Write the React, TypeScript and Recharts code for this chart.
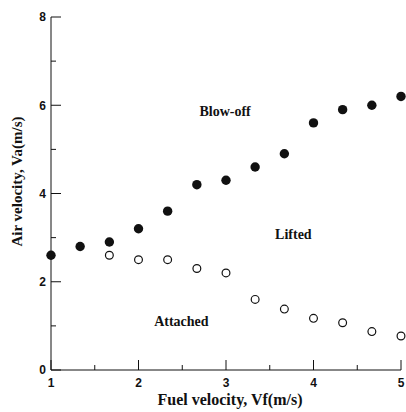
import React from 'react';
import { ScatterChart, Scatter, XAxis, YAxis, ReferenceDot, Label } from 'recharts';

const fuelX = [1, 1.333, 1.667, 2, 2.333, 2.667, 3, 3.333, 3.667, 4, 4.333, 4.667, 5];
const blowOffY = [2.6, 2.8, 2.9, 3.2, 3.6, 4.2, 4.3, 4.6, 4.9, 5.6, 5.9, 6.0, 6.2];
const attachedX = [1.667, 2, 2.333, 2.667, 3, 3.333, 3.667, 4, 4.333, 4.667, 5];
const attachedY = [2.6, 2.5, 2.5, 2.3, 2.2, 1.6, 1.38, 1.17, 1.07, 0.87, 0.77];
const xTicks = [1, 1.5, 2, 2.5, 3, 3.5, 4, 4.5, 5];
const yTicks = [0, 1, 2, 3, 4, 5, 6, 7, 8];
const xTickLabels = ['1', '', '2', '', '3', '', '4', '', '5'];
const yTickLabels = ['0', '', '2', '', '4', '', '6', '', '8'];
const regionLabels = [
  { text: 'Blow-off', x: 2.99, y: 5.87 },
  { text: 'Lifted', x: 3.77, y: 3.08 },
  { text: 'Attached', x: 2.49, y: 1.12 },
];

const blowOffData = fuelX.map((x, i) => ({ x, y: blowOffY[i] }));
const attachedData = attachedX.map((x, i) => ({ x, y: attachedY[i] }));

const SERIF = '"Liberation Serif", "Times New Roman", serif';
const SANS = '"Liberation Sans", Arial, sans-serif';
const INK = '#111';

const XTick = (props: any) => {
  const { x, y, payload } = props;
  const idx = xTicks.indexOf(payload.value);
  const lbl = xTickLabels[idx] || '';
  const len = lbl ? 10 : 5;
  return (
    <g>
      <line x1={x} y1={y} x2={x} y2={y - len} stroke={INK} strokeWidth={1} />
      {lbl && (
        <text x={x} y={y + 17} textAnchor="middle" fontFamily={SANS} fontWeight="bold" fontSize={12} fill={INK}>
          {lbl}
        </text>
      )}
    </g>
  );
};

const YTick = (props: any) => {
  const { x, y, payload } = props;
  const idx = yTicks.indexOf(payload.value);
  const lbl = yTickLabels[idx] || '';
  const len = lbl ? 10 : 5;
  return (
    <g>
      <line x1={x} y1={y} x2={x + len} y2={y} stroke={INK} strokeWidth={1} />
      {lbl && (
        <text x={x - 5} y={y + 4.3} textAnchor="end" fontFamily={SANS} fontWeight="bold" fontSize={12} fill={INK}>
          {lbl}
        </text>
      )}
    </g>
  );
};

const FilledDot = (props: any) => <circle cx={props.cx} cy={props.cy} r={4.7} fill={INK} />;
const OpenDot = (props: any) => (
  <circle cx={props.cx} cy={props.cy} r={3.9} fill="#fff" stroke={INK} strokeWidth={1.2} />
);

const XTitle = (props: any) => {
  const vb = props.viewBox;
  return (
    <text x={vb.x + vb.width / 2 + 4} y={vb.y + 35} textAnchor="middle" fontFamily={SERIF} fontWeight="bold" fontSize={16} fill={INK}>
      Fuel velocity, Vf(m/s)
    </text>
  );
};

const YTitle = (props: any) => {
  const vb = props.viewBox;
  const cx = 17;
  const cy = vb.y + vb.height / 2 - 12;
  return (
    <text x={cx} y={cy} transform={`rotate(-90, ${cx}, ${cy})`} textAnchor="middle" dominantBaseline="central" fontFamily={SERIF} fontWeight="bold" fontSize={15} fill={INK}>
      Air velocity, Va(m/s)
    </text>
  );
};

export default function App() {
  return (
    <div style={{ position: 'absolute', left: 0, top: 0, background: '#fff' }}>
      <ScatterChart width={406} height={412} margin={{ top: 17, right: 5, bottom: 0, left: 0 }}>
        <XAxis
          type="number"
          dataKey="x"
          domain={[1, 5]}
          ticks={xTicks}
          interval={0}
          height={42}
          tickSize={0}
          tickMargin={0}
          tickLine={false}
          tick={<XTick />}
          axisLine={{ stroke: INK, strokeWidth: 1 }}
        >
          <Label content={<XTitle />} />
        </XAxis>
        <YAxis
          type="number"
          dataKey="y"
          domain={[0, 8]}
          ticks={yTicks}
          interval={0}
          width={51}
          tickSize={0}
          tickMargin={0}
          tickLine={false}
          tick={<YTick />}
          axisLine={{ stroke: INK, strokeWidth: 1 }}
        >
          <Label content={<YTitle />} />
        </YAxis>
        <Scatter data={blowOffData} shape={<FilledDot />} isAnimationActive={false} />
        <Scatter data={attachedData} shape={<OpenDot />} isAnimationActive={false} />
        {regionLabels.map((r) => (
          <ReferenceDot
            key={r.text}
            x={r.x}
            y={r.y}
            r={0}
            fill="none"
            stroke="none"
            ifOverflow="visible"
            label={{
              value: r.text,
              position: 'center',
              fontFamily: SERIF,
              fontSize: 14,
              fontWeight: 'bold',
              fill: INK,
            }}
          />
        ))}
      </ScatterChart>
    </div>
  );
}
